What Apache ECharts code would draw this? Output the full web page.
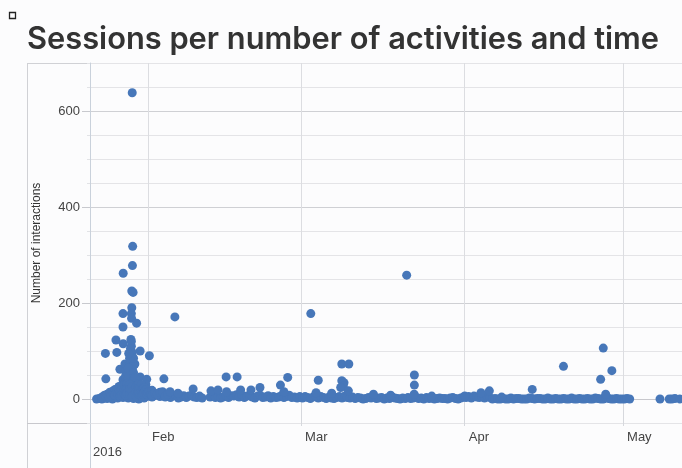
<!DOCTYPE html>
<html><head><meta charset="utf-8">
<script src="https://cdn.jsdelivr.net/npm/echarts@6/dist/echarts.min.js"></script>
<style>html,body{margin:0;padding:0;background:#fcfcfd}#c{width:682px;height:468px}</style>
</head><body><div id="c"></div>
<script>
// ---------- data ----------
const chartTitle = 'Sessions per number of activities and time';
const yAxisName = 'Number of interactions';
const dataYear = 2016;
const monthTicks = ['02-01 00', '03-01 00', '04-01 00', '05-01 00'];
const monthLabels = ['Feb', 'Mar', 'Apr', 'May'];
const yearLabel = '2016';
const yLabelTicks = [0, 200, 400, 600];
const xRange = ['01-21 00', '05-12 04'];
const yRange = [-50, 700];

// dense band of small sessions, one value every 12 hours from each start
const baselineStarts = ['01-22 06', '02-01 06', '03-01 06', '04-01 06', '05-01 06'];
const baselineStepHours = 12;
const baselineJan = [0,1, 0,2, 1,3, 0,4, 2,5, 3,6, 2,5, 1,4, 0,3, 2,5];
const baselineFeb = [8,4, 7,10, 5,8, 4,7, 3,8, 6,2, 4,7, 3,6, 8,4, 3,6, 2,null, null,4, 7,3, 6,2, 4,8,
  3,7, 6,9, 4,8, 3,6, 7,4, 2,6, 8,3, 4,7, 2,5, 3,4, 7,3, 5,8, 3,4, 2,5];
const baselineMar = [2,5, 3,1, 4,6, 2,5, 3,1, 4,2, 1,3, 5,2, 6,3, 2,4, 1,3, 2,0, 1,3, 2,4, 1,2, 3,0,
  2,1, 4,2, 1,0, 2,1, 3,1, 2,4, 1,2, 0,3, 1,2, 0,1, 2,1, 1,0, 2,3, 1,0, 2,4];
const baselineApr = [3,5, 2,6, 4,3, 5,2, 6,3, 0,1, 0,0, 1,0, 0,2, 0,1, 1,0, 0,0, 2,1, 0,1, 1,0,
  0,2, 0,0, 1,0, 0,1, 0,0, 2,0, 0,1, 0,0, 1,0, 0,2, 1,0, 0,3, 1,0, 0,1, 0,0];
const baselineMay = [0, 1, 0];

// individual sessions [time 'MM-DD HH', interactions]
const burstSessions = [
  ['01-29 00',638],['01-29 02',318],['01-29 01',278],['01-27 07',262],['01-28 22',225],['01-29 04',222],
  ['01-28 22',190],['01-27 06',178],['01-28 20',178],['01-28 21',168],['01-29 20',158],['01-27 06',150],
  ['01-25 22',123],['01-27 07',115],['01-28 18',124],['01-23 22',95],['01-26 02',97],['01-30 12',100],
  ['02-01 06',90],['01-26 16',62],['01-27 15',73],['01-29 12',73],['01-24 00',42],['01-30 12',46],
  ['01-31 18',41],['01-31 14',30],['01-30 20',27],['02-04 00',42],
  ['01-28 20',60],['01-28 20',70],['01-28 20',80],['01-28 20',90],['01-28 20',100],['01-28 20',110],['01-28 20',120],
  ['01-28 16',55],['01-28 16',65],['01-28 16',75],['01-28 16',85],['01-28 16',95],['01-28 16',105],
  ['01-29 00',50],['01-29 00',62],['01-29 00',72],['01-29 00',84],['01-29 00',96],
  ['01-28 12',70],['01-28 12',85],['01-29 06',70],['01-29 06',85],['01-28 08',95],
  ['01-27 06',30],['01-27 06',40],['01-27 18',28],['01-27 18',38],['01-27 18',48],['01-27 18',58],
  ['01-28 06',30],['01-28 06',42],['01-28 06',52],['01-28 06',64],['01-29 06',30],['01-29 06',40],['01-29 06',55],
  ['01-29 12',28],['01-29 12',45]
];
// the low hill of sessions around the launch week
const burstHill = [
  ['01-23 06',4],['01-23 18',8],['01-24 00',6],['01-24 06',10],['01-24 12',5],['01-24 18',14],['01-25 00',8],
  ['01-25 06',16],['01-25 12',10],['01-25 18',20],['01-25 18',8],['01-26 00',14],['01-26 06',22],['01-26 06',10],
  ['01-26 12',26],['01-26 12',15],['01-26 18',25],['01-26 18',15],['01-26 18',5],['01-27 00',28],['01-27 00',18],
  ['01-27 00',8],['01-27 12',30],['01-27 12',20],['01-27 12',10],['01-27 18',18],['01-27 18',8],
  ['01-28 00',32],['01-28 00',22],['01-28 00',12],['01-28 12',30],['01-28 12',20],['01-28 12',10],
  ['01-29 00',26],['01-29 00',16],['01-29 00',6],['01-29 18',25],['01-29 18',15],['01-29 18',5],
  ['01-30 00',28],['01-30 00',12],['01-30 06',32],['01-30 06',20],['01-30 06',10],['01-30 12',24],['01-30 12',8],
  ['01-30 18',30],['01-30 18',18],['01-30 18',6],['01-31 00',22],['01-31 00',10],['01-31 06',24],['01-31 06',12],
  ['01-31 12',18],['01-31 18',20],['01-31 18',10],['02-01 00',14],['02-01 06',15],['02-01 12',10],
  ['02-01 18',18],['02-01 18',8],['02-02 06',12],['02-02 18',10],['02-03 06',14],['02-03 18',15],
  ['02-04 06',6],['02-04 18',10]
];
const febSessions = [
  ['02-06 02',171],['02-05 04',15],['02-06 16',12],['02-09 13',21],['02-12 22',17],['02-14 06',19],
  ['02-15 19',46],['02-15 21',15],['02-17 21',46],['02-18 13',19],['02-20 12',19],['02-22 05',24],
  ['02-26 02',29],['02-26 18',15],['02-27 11',45]
];
const marSessions = [
  ['03-02 20',178],['03-03 20',13],['03-04 06',39],['03-06 19',12],['03-08 17',73],['03-10 01',73],
  ['03-08 17',38],['03-09 03',34],['03-09 00',27],['03-08 12',24],['03-09 23',17],['03-14 17',10],
  ['03-17 23',8],['03-21 00',258],['03-22 11',50],['03-22 11',29],['03-22 10',10],['03-25 18',6]
];
const aprSessions = [
  ['04-01 00',6],['04-04 02',13],['04-05 16',17],['04-08 00',4],['04-13 19',20],['04-19 17',68],
  ['04-26 18',41],['04-27 06',106],['04-28 21',59],['04-27 17',10]
];
const maySessions = [['05-08 00',0],['05-09 18',0],['05-10 06',0],['05-10 20',1],['05-11 19',0]];

// ---------- build ----------
function t(s) {
  const [md, h] = s.split(' ');
  const [m, d] = md.split('-').map(Number);
  return new Date(dataYear, m - 1, d, Number(h)).getTime();
}
const points = [];
[baselineJan, baselineFeb, baselineMar, baselineApr, baselineMay].forEach((arr, k) => {
  const t0 = t(baselineStarts[k]);
  arr.forEach((v, i) => { if (v !== null) points.push([t0 + i * baselineStepHours * 3600e3, v]); });
});
[burstSessions, burstHill, febSessions, marSessions, aprSessions, maySessions].forEach(arr =>
  arr.forEach(([s, v]) => points.push([t(s), v])));
const monthTickTimes = monthTicks.map(t);

const G = { left: 90, top: 63, right: 0, bottom: 45 };
const W = 682, H = 468;
const FONT = '"Liberation Sans", Arial, Helvetica, sans-serif';

const chart = echarts.init(document.getElementById('c'), null, { renderer: 'canvas' });
chart.setOption({
  backgroundColor: '#fcfcfd',
  animation: false,
  title: {
    text: chartTitle, left: 27, top: 24, padding: 0,
    textStyle: { fontFamily: 'Inter, "Liberation Sans", sans-serif', fontWeight: 600, fontSize: 30.8, color: '#333' }
  },
  grid: { left: G.left, top: G.top, right: G.right, bottom: G.bottom, containLabel: false },
  xAxis: {
    type: 'value', min: t(xRange[0]), max: t(xRange[1]),
    axisLine: { show: true, lineStyle: { color: '#c8c8cd', width: 1 } },
    axisTick: { show: true, customValues: monthTickTimes, length: 27, lineStyle: { color: '#d6d8dd' } },
    axisLabel: {
      customValues: monthTickTimes, align: 'left', margin: 8, padding: [0, 0, 0, 4],
      fontFamily: FONT, fontSize: 13, color: '#444',
      formatter: v => { const i = monthTickTimes.indexOf(v); return i >= 0 ? monthLabels[i] : ''; }
    },
    splitLine: { show: true, lineStyle: { color: '#dcdde1', width: 1 } }
  },
  yAxis: [{
    type: 'value', min: yRange[0], max: yRange[1], interval: 50,
    name: yAxisName, nameLocation: 'middle', nameGap: 47, nameRotate: 90,
    nameTextStyle: { fontFamily: FONT, fontSize: 12, color: '#333' },
    axisLine: { show: true, lineStyle: { color: '#c9d1db', width: 1 } },
    axisTick: { show: true, length: 3, lineStyle: { color: '#e2e3e6' } },
    axisLabel: {
      margin: 10, fontFamily: FONT, fontSize: 13, color: '#444',
      formatter: v => (yLabelTicks.indexOf(v) >= 0 ? String(v) : '')
    },
    splitLine: { show: true, lineStyle: { color: ['#e4e4e7', '#cfd0d4', '#e4e4e7', '#e4e4e7'], width: 1 } }
  }, {
    type: 'value', min: yRange[0], max: yRange[1], interval: 50, position: 'left',
    axisLine: { show: false }, axisLabel: { show: false }, splitLine: { show: false },
    axisTick: { show: true, customValues: yLabelTicks, length: 8, lineStyle: { color: '#c8c9ce' } }
  }],
  graphic: [
    { type: 'rect', shape: { x: 9.5, y: 12.5, width: 6, height: 6 }, style: { fill: 'none', stroke: '#222', lineWidth: 1.3 } },
    { type: 'line', shape: { x1: 27.5, y1: G.top, x2: 27.5, y2: H }, style: { stroke: '#d0d1d5', lineWidth: 1 } },
    { type: 'line', shape: { x1: 27, y1: G.top + 0.5, x2: W, y2: G.top + 0.5 }, style: { stroke: '#d0d1d5', lineWidth: 1 } },
    { type: 'line', shape: { x1: 27, y1: H - G.bottom + 0.5, x2: G.left, y2: H - G.bottom + 0.5 }, style: { stroke: '#c8c8cd', lineWidth: 1 } },
    { type: 'line', shape: { x1: G.left + 0.5, y1: H - G.bottom, x2: G.left + 0.5, y2: H }, style: { stroke: '#c9d1db', lineWidth: 1 } },
    { type: 'text', x: G.left + 3, y: H - 16, style: { text: yearLabel, font: '13px ' + FONT, fill: '#444', verticalAlign: 'middle' } }
  ],
  series: [{
    type: 'scatter', yAxisIndex: 0, symbolSize: 9, data: points,
    itemStyle: { color: '#4777b9', opacity: 1 }
  }]
});
</script></body></html>
